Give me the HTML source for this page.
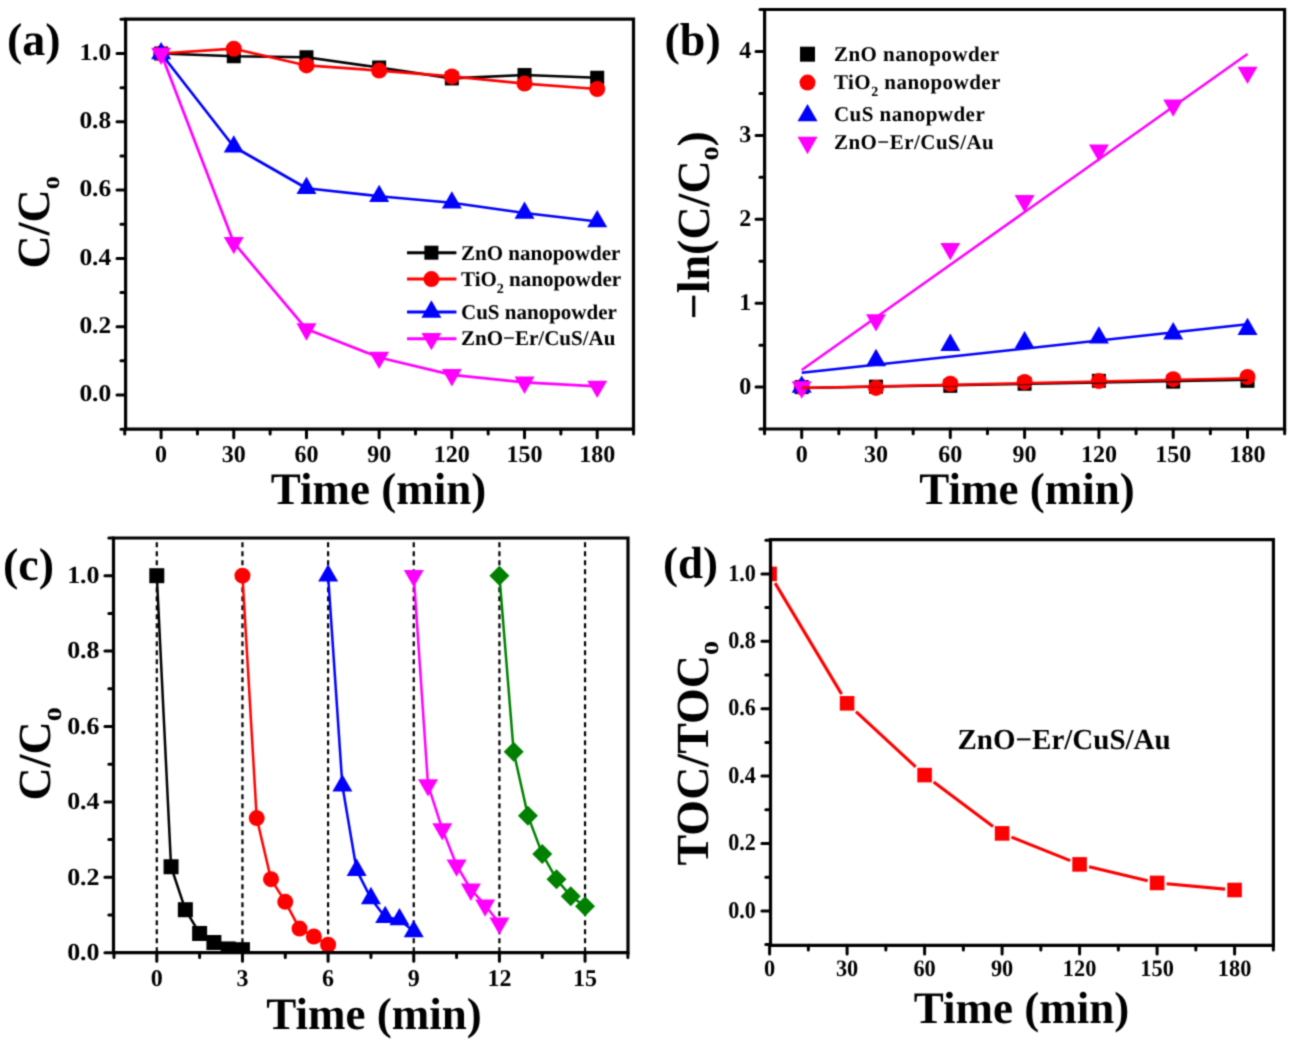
<!DOCTYPE html><html><head><meta charset="utf-8"><style>html,body{margin:0;padding:0;background:#fff}svg{display:block}text{font-family:"Liberation Serif",serif;font-weight:bold;fill:#000;text-rendering:geometricPrecision}</style></head><body>
<svg width="1298" height="1046" viewBox="0 0 1298 1046">
<defs><filter id="bl" x="0" y="0" width="1298" height="1046" filterUnits="userSpaceOnUse" color-interpolation-filters="sRGB"><feConvolveMatrix order="3" kernelMatrix="0.0361 0.1178 0.0361 0.1178 0.3846 0.1178 0.0361 0.1178 0.0361" edgeMode="none"/></filter></defs>
<rect width="1298" height="1046" fill="#fff"/>
<g filter="url(#bl)">
<path d="M161.1 53.5L233.78 56.23L306.47 57.26L379.15 67.5L451.84 78.43L524.52 75.01L597.2 77.75" fill="none" stroke="#000000" stroke-width="2.7" stroke-linejoin="round"/>
<rect x="154.1" y="46.5" width="14" height="14" fill="#000000"/>
<rect x="226.78" y="49.23" width="14" height="14" fill="#000000"/>
<rect x="299.47" y="50.26" width="14" height="14" fill="#000000"/>
<rect x="372.15" y="60.5" width="14" height="14" fill="#000000"/>
<rect x="444.84" y="71.43" width="14" height="14" fill="#000000"/>
<rect x="517.52" y="68.01" width="14" height="14" fill="#000000"/>
<rect x="590.2" y="70.75" width="14" height="14" fill="#000000"/>
<path d="M161.1 53.5L233.78 48.72L306.47 65.45L379.15 70.57L451.84 76.38L524.52 83.55L597.2 89.02" fill="none" stroke="#ff0000" stroke-width="2.7" stroke-linejoin="round"/>
<circle cx="161.1" cy="53.5" r="8" fill="#ff0000"/>
<circle cx="233.78" cy="48.72" r="8" fill="#ff0000"/>
<circle cx="306.47" cy="65.45" r="8" fill="#ff0000"/>
<circle cx="379.15" cy="70.57" r="8" fill="#ff0000"/>
<circle cx="451.84" cy="76.38" r="8" fill="#ff0000"/>
<circle cx="524.52" cy="83.55" r="8" fill="#ff0000"/>
<circle cx="597.2" cy="89.02" r="8" fill="#ff0000"/>
<path d="M161.1 53.5L233.78 146.73L306.47 188.22L379.15 196.25L451.84 202.74L524.52 212.98L597.2 221.52" fill="none" stroke="#0000ff" stroke-width="2.7" stroke-linejoin="round"/>
<path d="M161.1 41.95L171.1 59.27L151.1 59.27Z" fill="#0000ff"/>
<path d="M233.78 135.18L243.78 152.5L223.78 152.5Z" fill="#0000ff"/>
<path d="M306.47 176.68L316.47 194L296.47 194Z" fill="#0000ff"/>
<path d="M379.15 184.7L389.15 202.02L369.15 202.02Z" fill="#0000ff"/>
<path d="M451.84 191.19L461.84 208.51L441.84 208.51Z" fill="#0000ff"/>
<path d="M524.52 201.43L534.52 218.75L514.52 218.75Z" fill="#0000ff"/>
<path d="M597.2 209.97L607.2 227.29L587.2 227.29Z" fill="#0000ff"/>
<path d="M161.1 53.5L233.78 242.69L306.47 329.09L379.15 357.44L451.84 374.85L524.52 382.36L597.2 386.46" fill="none" stroke="#ff00ff" stroke-width="2.7" stroke-linejoin="round"/>
<path d="M161.1 65.05L171.1 47.73L151.1 47.73Z" fill="#ff00ff"/>
<path d="M233.78 254.24L243.78 236.92L223.78 236.92Z" fill="#ff00ff"/>
<path d="M306.47 340.64L316.47 323.32L296.47 323.32Z" fill="#ff00ff"/>
<path d="M379.15 368.98L389.15 351.66L369.15 351.66Z" fill="#ff00ff"/>
<path d="M451.84 386.4L461.84 369.08L441.84 369.08Z" fill="#ff00ff"/>
<path d="M524.52 393.91L534.52 376.59L514.52 376.59Z" fill="#ff00ff"/>
<path d="M597.2 398.01L607.2 380.69L587.2 380.69Z" fill="#ff00ff"/>
<path d="M125.6 19.2H633.5V429.2H125.6Z" fill="none" stroke="#000" stroke-width="3.2" stroke-linejoin="miter"/>
<path d="M161.1 429.2v8.6M233.78 429.2v8.6M306.47 429.2v8.6M379.15 429.2v8.6M451.84 429.2v8.6M524.52 429.2v8.6M597.2 429.2v8.6M124.76 429.2v4.7M197.44 429.2v4.7M270.13 429.2v4.7M342.81 429.2v4.7M415.49 429.2v4.7M488.18 429.2v4.7M560.86 429.2v4.7M633.55 429.2v4.7" stroke="#000" stroke-width="3" stroke-linecap="round"/>
<path d="M125.6 395h-8.6M125.6 326.7h-8.6M125.6 258.4h-8.6M125.6 190.1h-8.6M125.6 121.8h-8.6M125.6 53.5h-8.6M125.6 429.15h-4.7M125.6 360.85h-4.7M125.6 292.55h-4.7M125.6 224.25h-4.7M125.6 155.95h-4.7M125.6 87.65h-4.7M125.6 19.35h-4.7" stroke="#000" stroke-width="3" stroke-linecap="round"/>
<text x="161.1" y="461.8" font-size="24" text-anchor="middle" >0</text>
<text x="233.78" y="461.8" font-size="24" text-anchor="middle" >30</text>
<text x="306.47" y="461.8" font-size="24" text-anchor="middle" >60</text>
<text x="379.15" y="461.8" font-size="24" text-anchor="middle" >90</text>
<text x="451.84" y="461.8" font-size="24" text-anchor="middle" >120</text>
<text x="524.52" y="461.8" font-size="24" text-anchor="middle" >150</text>
<text x="597.2" y="461.8" font-size="24" text-anchor="middle" >180</text>
<text transform="translate(111.2 401.1) scale(1.06 1)" font-size="24" text-anchor="end" >0.0</text>
<text transform="translate(111.2 332.8) scale(1.06 1)" font-size="24" text-anchor="end" >0.2</text>
<text transform="translate(111.2 264.5) scale(1.06 1)" font-size="24" text-anchor="end" >0.4</text>
<text transform="translate(111.2 196.2) scale(1.06 1)" font-size="24" text-anchor="end" >0.6</text>
<text transform="translate(111.2 127.9) scale(1.06 1)" font-size="24" text-anchor="end" >0.8</text>
<text transform="translate(111.2 59.6) scale(1.06 1)" font-size="24" text-anchor="end" >1.0</text>
<text x="378.5" y="504" font-size="45" text-anchor="middle" >Time (min)</text>
<text transform="translate(49.2 268.4) rotate(-90)" font-size="46">C/C<tspan font-size="26" dy="10">o</tspan></text>
<text x="6.9" y="55" font-size="46" text-anchor="start" >(a)</text>
<path d="M407 252.7H456.4" stroke="#000000" stroke-width="3"/>
<rect x="424.4" y="245.7" width="14" height="14" fill="#000000"/>
<text x="461" y="259.9" font-size="21" text-anchor="start" >ZnO nanopowder</text>
<path d="M407 279.1H456.4" stroke="#ff0000" stroke-width="3"/>
<circle cx="431.4" cy="279.1" r="8" fill="#ff0000"/>
<text x="461" y="286.2" font-size="21" text-anchor="start" >TiO<tspan font-size="14" dy="7">2</tspan><tspan dy="-7"> nanopowder</tspan></text>
<path d="M407 311.9H456.4" stroke="#0000ff" stroke-width="3"/>
<path d="M431.4 300.35L441.4 317.67L421.4 317.67Z" fill="#0000ff"/>
<text x="461" y="318.6" font-size="21" text-anchor="start" >CuS nanopowder</text>
<path d="M407 338.8H456.4" stroke="#ff00ff" stroke-width="3"/>
<path d="M431.4 350.35L441.4 333.03L421.4 333.03Z" fill="#ff00ff"/>
<text x="461" y="345.2" font-size="21" text-anchor="start" >ZnO−Er/CuS/Au</text>
<rect x="794.7" y="380.1" width="14" height="14" fill="#000000"/>
<rect x="869" y="379.68" width="14" height="14" fill="#000000"/>
<rect x="943.3" y="378.84" width="14" height="14" fill="#000000"/>
<rect x="1017.6" y="376.74" width="14" height="14" fill="#000000"/>
<rect x="1091.9" y="373.81" width="14" height="14" fill="#000000"/>
<rect x="1166.2" y="374.65" width="14" height="14" fill="#000000"/>
<rect x="1240.51" y="373.81" width="14" height="14" fill="#000000"/>
<circle cx="801.7" cy="387.1" r="8" fill="#ff0000"/>
<circle cx="876" cy="387.94" r="8" fill="#ff0000"/>
<circle cx="950.3" cy="383.74" r="8" fill="#ff0000"/>
<circle cx="1024.6" cy="381.9" r="8" fill="#ff0000"/>
<circle cx="1098.9" cy="381.06" r="8" fill="#ff0000"/>
<circle cx="1173.2" cy="379.21" r="8" fill="#ff0000"/>
<circle cx="1247.51" cy="377.03" r="8" fill="#ff0000"/>
<path d="M801.7 375.55L811.7 392.87L791.7 392.87Z" fill="#0000ff"/>
<path d="M876 348.87L886 366.19L866 366.19Z" fill="#0000ff"/>
<path d="M950.3 333.6L960.3 350.92L940.3 350.92Z" fill="#0000ff"/>
<path d="M1024.6 331.09L1034.6 348.41L1014.6 348.41Z" fill="#0000ff"/>
<path d="M1098.9 326.3L1108.9 343.62L1088.9 343.62Z" fill="#0000ff"/>
<path d="M1173.2 322.11L1183.2 339.43L1163.2 339.43Z" fill="#0000ff"/>
<path d="M1247.51 317.75L1257.51 335.07L1237.51 335.07Z" fill="#0000ff"/>
<path d="M801.7 398.65L811.7 381.33L791.7 381.33Z" fill="#ff00ff"/>
<path d="M876 331.53L886 314.21L866 314.21Z" fill="#ff00ff"/>
<path d="M950.3 260.21L960.3 242.89L940.3 242.89Z" fill="#ff00ff"/>
<path d="M1024.6 212.39L1034.6 195.07L1014.6 195.07Z" fill="#ff00ff"/>
<path d="M1098.9 161.71L1108.9 144.39L1088.9 144.39Z" fill="#ff00ff"/>
<path d="M1173.2 116.74L1183.2 99.42L1163.2 99.42Z" fill="#ff00ff"/>
<path d="M1247.51 84.02L1257.51 66.7L1237.51 66.7Z" fill="#ff00ff"/>
<path d="M801.7 387.94L1247.51 379.72" fill="none" stroke="#000000" stroke-width="2.5" stroke-linejoin="round"/>
<path d="M801.7 387.94L1247.51 378.29" fill="none" stroke="#ff0000" stroke-width="2.5" stroke-linejoin="round"/>
<path d="M801.7 372.84L1247.51 324.34" fill="none" stroke="#0000ff" stroke-width="2.5" stroke-linejoin="round"/>
<path d="M801.7 370.07L1247.51 54.02" fill="none" stroke="#ff00ff" stroke-width="2.5" stroke-linejoin="round"/>
<path d="M764.6 9.5H1284.6V429H764.6Z" fill="none" stroke="#000" stroke-width="3.2" stroke-linejoin="miter"/>
<path d="M801.7 429v8.6M876 429v8.6M950.3 429v8.6M1024.6 429v8.6M1098.9 429v8.6M1173.2 429v8.6M1247.51 429v8.6M764.55 429v4.7M838.85 429v4.7M913.15 429v4.7M987.45 429v4.7M1061.75 429v4.7M1136.05 429v4.7M1210.36 429v4.7M1284.66 429v4.7" stroke="#000" stroke-width="3" stroke-linecap="round"/>
<path d="M764.6 387.1h-8.6M764.6 303.2h-8.6M764.6 219.3h-8.6M764.6 135.4h-8.6M764.6 51.5h-8.6M764.6 429.05h-4.7M764.6 345.15h-4.7M764.6 261.25h-4.7M764.6 177.35h-4.7M764.6 93.45h-4.7M764.6 9.55h-4.7" stroke="#000" stroke-width="3" stroke-linecap="round"/>
<text x="801.7" y="461.6" font-size="24" text-anchor="middle" >0</text>
<text x="876" y="461.6" font-size="24" text-anchor="middle" >30</text>
<text x="950.3" y="461.6" font-size="24" text-anchor="middle" >60</text>
<text x="1024.6" y="461.6" font-size="24" text-anchor="middle" >90</text>
<text x="1098.9" y="461.6" font-size="24" text-anchor="middle" >120</text>
<text x="1173.2" y="461.6" font-size="24" text-anchor="middle" >150</text>
<text x="1247.51" y="461.6" font-size="24" text-anchor="middle" >180</text>
<text x="751.3" y="393.7" font-size="24" text-anchor="end" >0</text>
<text x="751.3" y="309.8" font-size="24" text-anchor="end" >1</text>
<text x="751.3" y="225.9" font-size="24" text-anchor="end" >2</text>
<text x="751.3" y="142" font-size="24" text-anchor="end" >3</text>
<text x="751.3" y="58.1" font-size="24" text-anchor="end" >4</text>
<text x="1027" y="504" font-size="45" text-anchor="middle" >Time (min)</text>
<text transform="translate(708.5 319.5) rotate(-90)" font-size="46">−ln(C/C<tspan font-size="28" dy="9.5">o</tspan><tspan dy="-9.5">)</tspan></text>
<text x="664.5" y="55" font-size="46" text-anchor="start" >(b)</text>
<rect x="800" y="46.7" width="15" height="15" fill="#000000"/>
<text x="834" y="61" font-size="21" text-anchor="start" letter-spacing="0.45">ZnO nanopowder</text>
<circle cx="807.5" cy="82.6" r="8" fill="#ff0000"/>
<text x="834" y="88.6" font-size="21" text-anchor="start" letter-spacing="0.45">TiO<tspan font-size="14" dy="7">2</tspan><tspan dy="-7"> nanopowder</tspan></text>
<path d="M807.5 103.95L817.5 121.27L797.5 121.27Z" fill="#0000ff"/>
<text x="834" y="121.4" font-size="21" text-anchor="start" letter-spacing="0.45">CuS nanopwder</text>
<path d="M807.5 154.15L817.5 136.83L797.5 136.83Z" fill="#ff00ff"/>
<text x="834" y="149.4" font-size="21" text-anchor="start" letter-spacing="0.45">ZnO−Er/CuS/Au</text>
<path d="M156.8 538V952.7" stroke="#000" stroke-width="2.2" stroke-dasharray="5 4" stroke-dashoffset="4.8"/>
<path d="M242.45 538V952.7" stroke="#000" stroke-width="2.2" stroke-dasharray="5 4" stroke-dashoffset="4.8"/>
<path d="M328.1 538V952.7" stroke="#000" stroke-width="2.2" stroke-dasharray="5 4" stroke-dashoffset="4.8"/>
<path d="M413.75 538V952.7" stroke="#000" stroke-width="2.2" stroke-dasharray="5 4" stroke-dashoffset="4.8"/>
<path d="M499.4 538V952.7" stroke="#000" stroke-width="2.2" stroke-dasharray="5 4" stroke-dashoffset="4.8"/>
<path d="M585.05 538V952.7" stroke="#000" stroke-width="2.2" stroke-dasharray="5 4" stroke-dashoffset="4.8"/>
<clipPath id="cc"><rect x="113.5" y="538.0" width="514.5" height="414.70000000000005"/></clipPath><g clip-path="url(#cc)">
<path d="M156.8 575.7L171.08 866.74L185.35 909.72L199.62 933.47L213.9 942.52L228.18 948.93L242.45 949.68" fill="none" stroke="#000000" stroke-width="2.5" stroke-linejoin="round"/>
<rect x="149.3" y="568.2" width="15" height="15" fill="#000000"/>
<rect x="163.58" y="859.24" width="15" height="15" fill="#000000"/>
<rect x="177.85" y="902.22" width="15" height="15" fill="#000000"/>
<rect x="192.12" y="925.97" width="15" height="15" fill="#000000"/>
<rect x="206.4" y="935.02" width="15" height="15" fill="#000000"/>
<rect x="220.68" y="941.43" width="15" height="15" fill="#000000"/>
<rect x="234.95" y="942.18" width="15" height="15" fill="#000000"/>
<path d="M242.45 575.7L256.73 818.11L271 879.19L285.27 901.81L299.55 928.57L313.83 936.49L328.1 944.78" fill="none" stroke="#ff0000" stroke-width="2.5" stroke-linejoin="round"/>
<circle cx="242.45" cy="575.7" r="8" fill="#ff0000"/>
<circle cx="256.73" cy="818.11" r="8" fill="#ff0000"/>
<circle cx="271" cy="879.19" r="8" fill="#ff0000"/>
<circle cx="285.27" cy="901.81" r="8" fill="#ff0000"/>
<circle cx="299.55" cy="928.57" r="8" fill="#ff0000"/>
<circle cx="313.83" cy="936.49" r="8" fill="#ff0000"/>
<circle cx="328.1" cy="944.78" r="8" fill="#ff0000"/>
<path d="M328.1 575.7L342.38 785.69L356.65 870.14L370.93 898.41L385.2 917.26L399.48 919.52L413.75 931.59" fill="none" stroke="#0000ff" stroke-width="2.5" stroke-linejoin="round"/>
<path d="M328.1 564.15L338.1 581.47L318.1 581.47Z" fill="#0000ff"/>
<path d="M342.38 774.14L352.38 791.46L332.38 791.46Z" fill="#0000ff"/>
<path d="M356.65 858.59L366.65 875.91L346.65 875.91Z" fill="#0000ff"/>
<path d="M370.93 886.87L380.93 904.19L360.93 904.19Z" fill="#0000ff"/>
<path d="M385.2 905.72L395.2 923.04L375.2 923.04Z" fill="#0000ff"/>
<path d="M399.48 907.98L409.48 925.3L389.48 925.3Z" fill="#0000ff"/>
<path d="M413.75 920.04L423.75 937.36L403.75 937.36Z" fill="#0000ff"/>
<path d="M413.75 575.7L428.03 784.94L442.3 829.04L456.58 865.24L470.85 889.36L485.12 905.2L499.4 923.29" fill="none" stroke="#ff00ff" stroke-width="2.5" stroke-linejoin="round"/>
<path d="M413.75 587.25L423.75 569.93L403.75 569.93Z" fill="#ff00ff"/>
<path d="M428.03 796.48L438.03 779.16L418.03 779.16Z" fill="#ff00ff"/>
<path d="M442.3 840.59L452.3 823.27L432.3 823.27Z" fill="#ff00ff"/>
<path d="M456.58 876.78L466.58 859.46L446.58 859.46Z" fill="#ff00ff"/>
<path d="M470.85 900.91L480.85 883.59L460.85 883.59Z" fill="#ff00ff"/>
<path d="M485.12 916.74L495.12 899.42L475.12 899.42Z" fill="#ff00ff"/>
<path d="M499.4 934.84L509.4 917.52L489.4 917.52Z" fill="#ff00ff"/>
<path d="M499.4 575.7L513.67 751.76L527.95 815.85L542.23 853.93L556.5 879.19L570.78 896.15L585.05 906.33" fill="none" stroke="#008000" stroke-width="2.5" stroke-linejoin="round"/>
<path d="M499.4 565.7L509.4 575.7L499.4 585.7L489.4 575.7Z" fill="#008000"/>
<path d="M513.67 741.76L523.67 751.76L513.67 761.76L503.67 751.76Z" fill="#008000"/>
<path d="M527.95 805.85L537.95 815.85L527.95 825.85L517.95 815.85Z" fill="#008000"/>
<path d="M542.23 843.93L552.23 853.93L542.23 863.93L532.23 853.93Z" fill="#008000"/>
<path d="M556.5 869.19L566.5 879.19L556.5 889.19L546.5 879.19Z" fill="#008000"/>
<path d="M570.78 886.15L580.78 896.15L570.78 906.15L560.78 896.15Z" fill="#008000"/>
<path d="M585.05 896.33L595.05 906.33L585.05 916.33L575.05 906.33Z" fill="#008000"/>
</g>
<path d="M113.5 538H628V952.7H113.5Z" fill="none" stroke="#000" stroke-width="3.2" stroke-linejoin="miter"/>
<path d="M156.8 952.7v8.6M242.45 952.7v8.6M328.1 952.7v8.6M413.75 952.7v8.6M499.4 952.7v8.6M585.05 952.7v8.6M113.98 952.7v4.7M199.62 952.7v4.7M285.27 952.7v4.7M370.93 952.7v4.7M456.58 952.7v4.7M542.23 952.7v4.7M627.88 952.7v4.7" stroke="#000" stroke-width="3" stroke-linecap="round"/>
<path d="M113.5 952.7h-8.6M113.5 877.3h-8.6M113.5 801.9h-8.6M113.5 726.5h-8.6M113.5 651.1h-8.6M113.5 575.7h-8.6M113.5 915h-4.7M113.5 839.6h-4.7M113.5 764.2h-4.7M113.5 688.8h-4.7M113.5 613.4h-4.7M113.5 538h-4.7" stroke="#000" stroke-width="3" stroke-linecap="round"/>
<text x="156.8" y="986" font-size="24" text-anchor="middle" >0</text>
<text x="242.45" y="986" font-size="24" text-anchor="middle" >3</text>
<text x="328.1" y="986" font-size="24" text-anchor="middle" >6</text>
<text x="413.75" y="986" font-size="24" text-anchor="middle" >9</text>
<text x="499.4" y="986" font-size="24" text-anchor="middle" >12</text>
<text x="585.05" y="986" font-size="24" text-anchor="middle" >15</text>
<text transform="translate(99.6 959.9) scale(1.06 1)" font-size="24.5" text-anchor="end" >0.0</text>
<text transform="translate(99.6 884.5) scale(1.06 1)" font-size="24.5" text-anchor="end" >0.2</text>
<text transform="translate(99.6 809.1) scale(1.06 1)" font-size="24.5" text-anchor="end" >0.4</text>
<text transform="translate(99.6 733.7) scale(1.06 1)" font-size="24.5" text-anchor="end" >0.6</text>
<text transform="translate(99.6 658.3) scale(1.06 1)" font-size="24.5" text-anchor="end" >0.8</text>
<text transform="translate(99.6 582.9) scale(1.06 1)" font-size="24.5" text-anchor="end" >1.0</text>
<text x="374" y="1028.8" font-size="45" text-anchor="middle" >Time (min)</text>
<text transform="translate(50 800.4) rotate(-90)" font-size="46">C/C<tspan font-size="28" dy="10.5">o</tspan></text>
<text x="3" y="580" font-size="46" text-anchor="start" >(c)</text>
<clipPath id="cd"><rect x="770.5" y="539.6" width="502.9000000000001" height="405.69999999999993"/></clipPath><g clip-path="url(#cd)">
<path d="M775.1 583.09L841.6 694.12M856.01 711.56L915.68 766.83M933.66 781.9L993.04 826.58M1011.44 837.13L1070.25 860.66M1089.04 866.65L1147.66 880.67M1166.59 883.8L1225.1 889.14" stroke="#ff0000" stroke-width="3.1" fill="none"/>
<rect x="762.3" y="566.6" width="14.6" height="14.6" fill="#ff0000"/>
<rect x="839.8" y="696.01" width="14.6" height="14.6" fill="#ff0000"/>
<rect x="917.3" y="767.79" width="14.6" height="14.6" fill="#ff0000"/>
<rect x="994.8" y="826.09" width="14.6" height="14.6" fill="#ff0000"/>
<rect x="1072.3" y="857.09" width="14.6" height="14.6" fill="#ff0000"/>
<rect x="1149.8" y="875.63" width="14.6" height="14.6" fill="#ff0000"/>
<rect x="1227.29" y="882.71" width="14.6" height="14.6" fill="#ff0000"/>
</g>
<path d="M770.5 539.6H1273.4V945.3H770.5Z" fill="none" stroke="#000" stroke-width="3.2" stroke-linejoin="miter"/>
<path d="M769.6 945.3v8.6M847.1 945.3v8.6M924.6 945.3v8.6M1002.1 945.3v8.6M1079.6 945.3v8.6M1157.1 945.3v8.6M1234.59 945.3v8.6M808.35 945.3v4.7M885.85 945.3v4.7M963.35 945.3v4.7M1040.85 945.3v4.7M1118.35 945.3v4.7M1195.84 945.3v4.7M1273.34 945.3v4.7" stroke="#000" stroke-width="3" stroke-linecap="round"/>
<path d="M770.5 910.9h-8.6M770.5 843.5h-8.6M770.5 776.1h-8.6M770.5 708.7h-8.6M770.5 641.3h-8.6M770.5 573.9h-8.6M770.5 944.6h-4.7M770.5 877.2h-4.7M770.5 809.8h-4.7M770.5 742.4h-4.7M770.5 675h-4.7M770.5 607.6h-4.7M770.5 540.2h-4.7" stroke="#000" stroke-width="3" stroke-linecap="round"/>
<text transform="translate(769.6 976) scale(0.95 1)" font-size="23.5" text-anchor="middle" >0</text>
<text transform="translate(847.1 976) scale(0.95 1)" font-size="23.5" text-anchor="middle" >30</text>
<text transform="translate(924.6 976) scale(0.95 1)" font-size="23.5" text-anchor="middle" >60</text>
<text transform="translate(1002.1 976) scale(0.95 1)" font-size="23.5" text-anchor="middle" >90</text>
<text transform="translate(1079.6 976) scale(0.95 1)" font-size="23.5" text-anchor="middle" >120</text>
<text transform="translate(1157.1 976) scale(0.95 1)" font-size="23.5" text-anchor="middle" >150</text>
<text transform="translate(1234.59 976) scale(0.95 1)" font-size="23.5" text-anchor="middle" >180</text>
<text transform="translate(755.8 917.5) scale(0.92 1)" font-size="24" text-anchor="end" >0.0</text>
<text transform="translate(755.8 850.1) scale(0.92 1)" font-size="24" text-anchor="end" >0.2</text>
<text transform="translate(755.8 782.7) scale(0.92 1)" font-size="24" text-anchor="end" >0.4</text>
<text transform="translate(755.8 715.3) scale(0.92 1)" font-size="24" text-anchor="end" >0.6</text>
<text transform="translate(755.8 647.9) scale(0.92 1)" font-size="24" text-anchor="end" >0.8</text>
<text transform="translate(755.8 580.5) scale(0.92 1)" font-size="24" text-anchor="end" >1.0</text>
<text x="1021.5" y="1022.9" font-size="45" text-anchor="middle" >Time (min)</text>
<text transform="translate(708 865.5) rotate(-90)" font-size="46">TOC/TOC<tspan font-size="28" dy="10">o</tspan></text>
<text x="663" y="577.5" font-size="45" text-anchor="start" >(d)</text>
<text x="957.5" y="748.5" font-size="29" text-anchor="start" >ZnO−Er/CuS/Au</text>
</g></svg></body></html>
